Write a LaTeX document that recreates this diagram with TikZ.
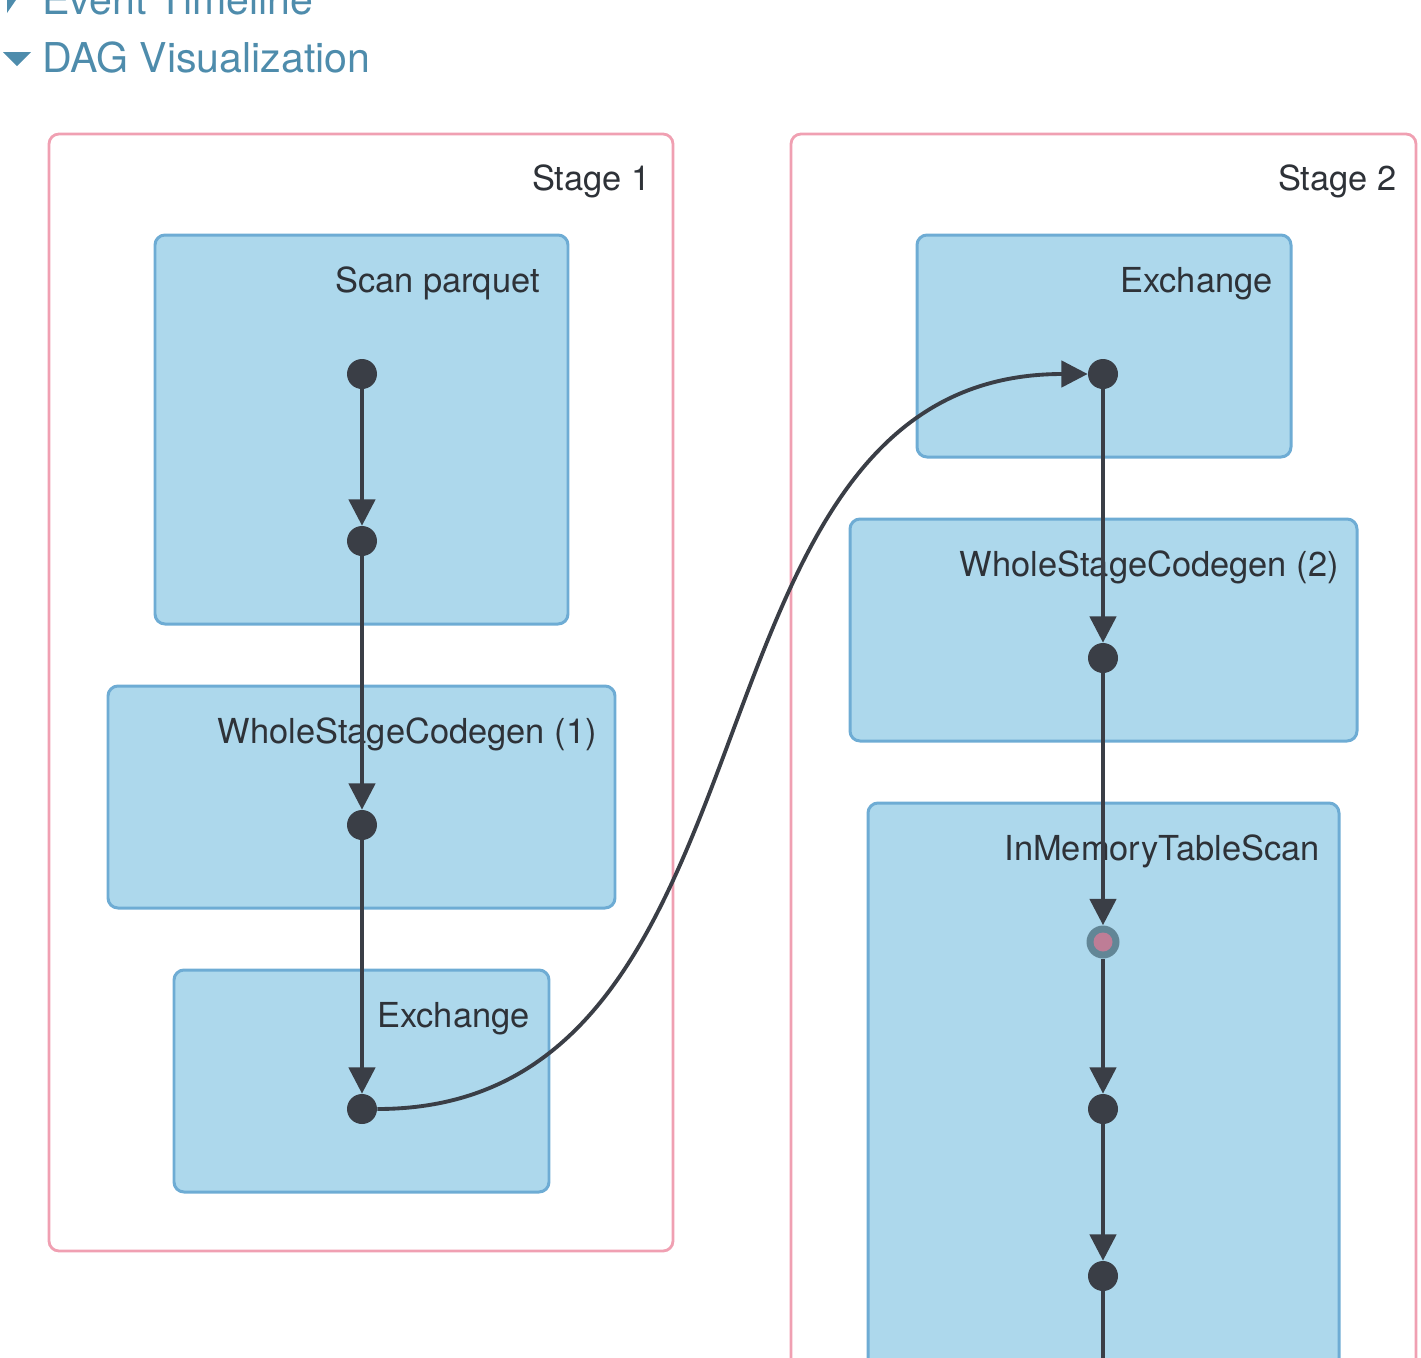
\documentclass[tikz,border=0pt]{standalone}
\usepackage{fontspec}
\setmainfont{TeX Gyre Heros}
\usetikzlibrary{calc,arrows.meta,fit,positioning}
\definecolor{stageline}{RGB}{240,160,178}
\definecolor{boxfill}{RGB}{173,216,236}
\definecolor{boxline}{RGB}{110,172,212}
\definecolor{ink}{RGB}{58,62,70}
\definecolor{labeltext}{RGB}{46,50,56}
\definecolor{header}{RGB}{78,140,172}
\definecolor{cachedot}{RGB}{98,134,150}
\definecolor{cachecore}{RGB}{190,125,150}

\begin{document}
\begin{tikzpicture}[x=0.02cm,y=-0.02cm,
    stagebox/.style={draw=stageline,line width=1.6pt,rounded corners=0.2cm,inner sep=0pt},
    opbox/.style={draw=boxline,fill=boxfill,line width=1.7pt,rounded corners=0.2cm,inner sep=0pt},
    oplabel/.style={anchor=base east,inner sep=0pt,text=labeltext,font=\fontsize{19.6}{23}\selectfont},
    headlabel/.style={anchor=base west,inner sep=0pt,text=header,font=\fontsize{23.4}{28}\selectfont},
    dotnode/.style={circle,fill=ink,minimum size=0.6cm,inner sep=0pt},
    flow/.style={draw=ink,line width=2.2pt,-{Triangle[length=15pt,width=15pt]}}]
    \useasboundingbox (0,0) rectangle (1421,1357);
    \clip (0,0) rectangle (1421,1357);

    % header
    \fill[header] (7,-20) -- (18,-3) -- (7,13) -- cycle;
    \node[headlabel] (timeline) at (42,14) {Event Timeline};
    \fill[header] (3,52) -- (31,52) -- (17,66) -- cycle;
    \node[headlabel] (dagviz) at (42,72) {DAG Visualization};

    % stages
    \node[stagebox,fit={(49,134) (673,1251)}] (stage1) {};
    \node[stagebox,fit={(791,134) (1416,1420)}] (stage2) {};
    \node[oplabel] (stage1lbl) at (651,190) {Stage 1};
    \node[oplabel] (stage2lbl) at (1397,190) {Stage 2};

    % operator boxes
    \node[opbox,fit={(155,235) (568,624)}] (scan) {};
    \node[opbox,fit={(108,686) (615,908)}] (wsc1) {};
    \node[opbox,fit={(174,970) (549,1192)}] (exch1) {};
    \node[opbox,fit={(917,235) (1291,457)}] (exch2) {};
    \node[opbox,fit={(850,519) (1357,741)}] (wsc2) {};
    \node[opbox,fit={(868,803) (1339,1420)}] (imts) {};

    \node[oplabel] (scanlbl) at (540,292) {Scan parquet};
    \node[oplabel] (wsc1lbl) at (597,743) {WholeStageCodegen (1)};
    \node[oplabel] (exch1lbl) at (530,1027) {Exchange};
    \node[oplabel] (exch2lbl) at (1273,292) {Exchange};
    \node[oplabel] (wsc2lbl) at (1339,576) {WholeStageCodegen (2)};
    \node[oplabel] (imtslbl) at (1320,860) {InMemoryTableScan};

    % rdd dots
    \node[dotnode] (a1) at (362,374) {};
    \node[dotnode] (a2) at (362,541) {};
    \node[dotnode] (a3) at (362,825) {};
    \node[dotnode] (a4) at (362,1109) {};
    \node[dotnode] (b1) at (1103,374) {};
    \node[dotnode] (b2) at (1103,658) {};
    \node[dotnode,fill=cachedot,minimum size=0.66cm] (b3) at (1103,942) {};
    \fill[cachecore] (b3) circle (0.19cm);
    \node[dotnode] (b4) at (1103,1109) {};
    \node[dotnode] (b5) at (1103,1276) {};
    \coordinate (b6) at (1103,1420);

    % edges
    \draw[flow] (a1) -- (a2);
    \draw[flow] (a2) -- (a3);
    \draw[flow] (a3) -- (a4);
    \draw[flow] (a4.east) .. controls ($(a4.east)+(423,0)$) and ($(b1.west)+(-424,0)$) .. (b1.west);
    \draw[flow] (b1) -- (b2);
    \draw[flow] (b2) -- (b3);
    \draw[flow] (b3) -- (b4);
    \draw[flow] (b4) -- (b5);
    \draw[draw=ink,line width=2.2pt] (b5) -- (b6);
\end{tikzpicture}
\end{document}
